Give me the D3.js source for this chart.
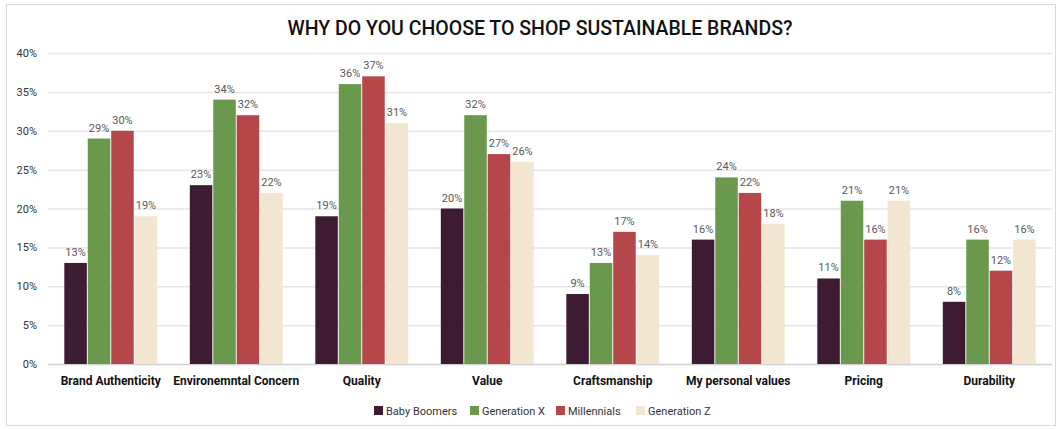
<!DOCTYPE html>
<html>
<head>
<meta charset="utf-8">
<script src="https://cdn.jsdelivr.net/npm/d3@7"></script>
<style>
  body { margin: 0; background: #fff; }
  text { font-family: Roboto, "Liberation Sans", sans-serif; }
</style>
</head>
<body>
<div id="chart"></div>
<script>
var categories = ["Brand Authenticity", "Environemntal Concern", "Quality", "Value",
  "Craftsmanship", "My personal values", "Pricing", "Durability"]
var seriesNames = ["Baby Boomers", "Generation X", "Millennials", "Generation Z"]
var babyBoomers = [13, 23, 19, 20, 9, 16, 11, 8]
var generationX = [29, 34, 36, 32, 13, 24, 21, 16]
var millennials = [30, 32, 37, 27, 17, 22, 16, 12]
var generationZ = [19, 22, 31, 26, 14, 18, 21, 16]
var yTicks = [0, 5, 10, 15, 20, 25, 30, 35, 40]
var colors = ["#3d1c33", "#6a994e", "#b5474b", "#f2e6d0"]

var W = 1061, H = 429
var margin = {top: 53, right: 9, bottom: 65, left: 48}

var svg = d3.select("#chart").append("svg")
  .attr("width", W).attr("height", H)

svg.append("rect")
  .attr("x", 6.5).attr("y", 4.5)
  .attr("width", W - 12).attr("height", H - 8)
  .attr("fill", "#fff").attr("stroke", "#d9d9d9")

svg.append("text")
  .attr("x", 540).attr("y", 35)
  .attr("text-anchor", "middle")
  .attr("font-size", 19.5).attr("font-weight", 500)
  .attr("fill", "#111")
  .text("WHY DO YOU CHOOSE TO SHOP SUSTAINABLE BRANDS?")

var x0 = d3.scaleBand().domain(categories)
  .range([margin.left, W - margin.right])
  .paddingInner(0.26).paddingOuter(0.13)
var x1 = d3.scaleBand().domain(seriesNames)
  .range([0, x0.bandwidth()]).paddingInner(0.04)
var y = d3.scaleLinear().domain([0, 40])
  .range([H - margin.bottom, margin.top])

// gridlines
svg.append("g").selectAll("line").data(yTicks).join("line")
  .attr("x1", margin.left).attr("x2", W - margin.right)
  .attr("y1", d => y(d) + 0.5).attr("y2", d => y(d) + 0.5)
  .attr("stroke", d => d === 0 ? "#d0d0d0" : "#e6e6e6")
  .attr("stroke-width", 1.5)

var yAxis = d3.axisLeft(y).tickValues(yTicks).tickFormat(d => d + "%").tickSize(0).tickPadding(0)
var ya = svg.append("g").attr("transform", "translate(37,0)").call(yAxis)
ya.select(".domain").remove()
ya.selectAll("text").attr("font-size", 11).attr("fill", "#333").style("font-family", "Roboto, sans-serif")

var series = [babyBoomers, generationX, millennials, generationZ]
var rows = categories.map((c, i) => ({cat: c, vals: series.map((s, j) => ({name: seriesNames[j], v: s[i], k: j}))}))

var groups = svg.append("g").selectAll("g").data(rows).join("g")
  .attr("transform", d => "translate(" + x0(d.cat) + ",0)")

groups.selectAll("rect").data(d => d.vals).join("rect")
  .attr("x", d => x1(d.name))
  .attr("width", x1.bandwidth())
  .attr("y", d => y(d.v))
  .attr("height", d => y(0) - y(d.v))
  .attr("fill", d => colors[d.k])

groups.selectAll("text").data(d => d.vals).join("text")
  .attr("x", d => x1(d.name) + x1.bandwidth() / 2)
  .attr("y", d => y(d.v) - 7)
  .attr("text-anchor", "middle")
  .attr("font-size", 11).attr("fill", "#595959")
  .text(d => d.v + "%")

// category labels
var xAxis = d3.axisBottom(x0).tickSize(0).tickPadding(0)
var xa = svg.append("g").attr("transform", "translate(0," + (y(0) + 12) + ")").call(xAxis)
xa.select(".domain").remove()
xa.selectAll("text").attr("font-size", 12).attr("font-weight", 700)
  .attr("fill", "#111").style("font-family", "Roboto, sans-serif")

// legend
var legendX = [374, 470, 556, 636]
var lg = svg.append("g").selectAll("g").data(seriesNames).join("g")
  .attr("transform", (d, i) => "translate(" + legendX[i] + ",406)")
lg.append("rect").attr("width", 9).attr("height", 9).attr("fill", (d, i) => colors[i])
lg.append("text").attr("x", 12).attr("y", 8.5)
  .attr("font-size", 11).attr("fill", "#333").text(d => d)
</script>
</body>
</html>
